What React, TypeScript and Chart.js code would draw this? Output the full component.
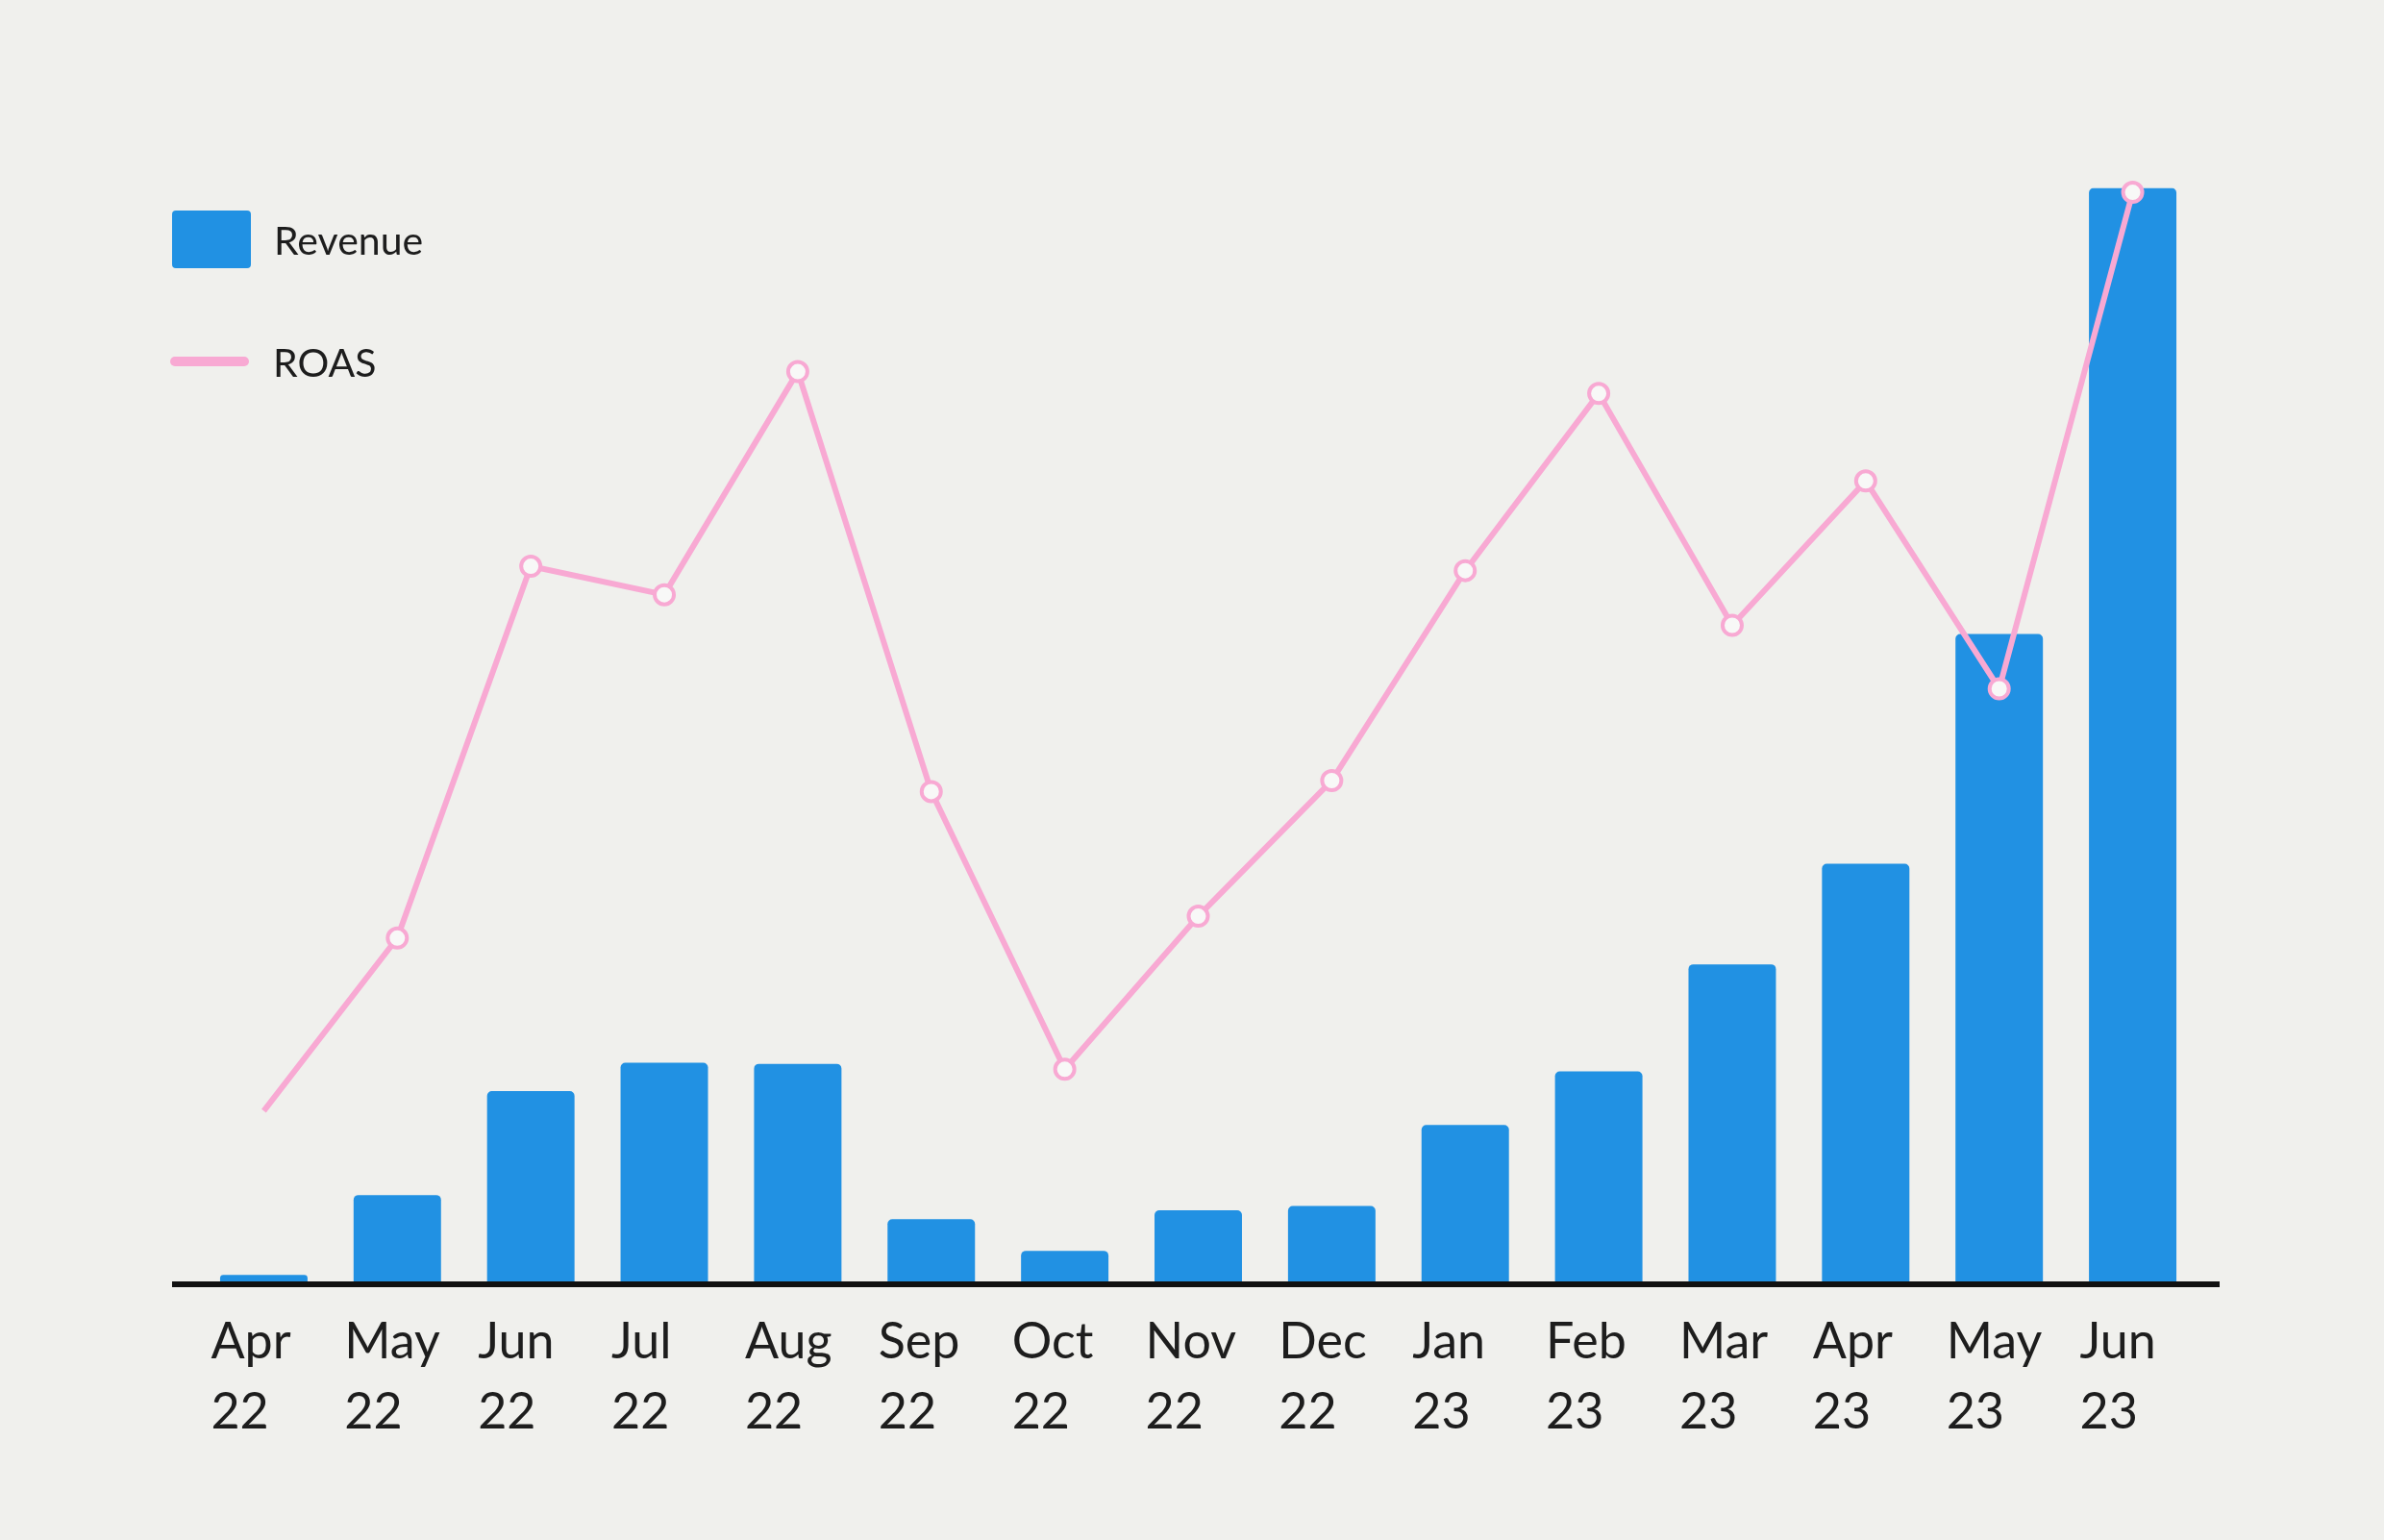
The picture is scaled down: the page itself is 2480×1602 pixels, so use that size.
import { useEffect, useRef } from 'react';
import { Chart, registerables } from 'chart.js';

Chart.register(...registerables);

const months = ['Apr', 'May', 'Jun', 'Jul', 'Aug', 'Sep', 'Oct', 'Nov', 'Dec', 'Jan', 'Feb', 'Mar', 'Apr', 'May', 'Jun'];
const years = ['22', '22', '22', '22', '22', '22', '22', '22', '22', '23', '23', '23', '23', '23', '23'];
const revenue = [0.6, 7.9, 17.4, 20.0, 19.9, 5.7, 2.8, 6.5, 6.9, 14.3, 19.2, 29.0, 38.2, 59.2, 100];
const roas = [0.78, 1.57, 3.27, 3.14, 4.16, 2.24, 0.97, 1.67, 2.29, 3.25, 4.06, 3.0, 3.66, 2.71, 4.98];

const BLUE = '#2191e3';
const PINK = '#f8a9d3';
const BG = '#f0f0ed';
const INK = '#1d1d1d';
const FONT = 'Lato, "Open Sans", sans-serif';

// thick black baseline that runs a little past the first and last bars
const baselinePlugin = {
  id: 'baseline',
  afterDatasetsDraw(chart: any) {
    const { ctx, chartArea } = chart;
    const y = chart.scales.y.getPixelForValue(0);
    ctx.save();
    ctx.fillStyle = '#111';
    ctx.fillRect(chartArea.left - 26, y, chartArea.right - chartArea.left + 47, 6);
    ctx.restore();
  }
};

export default function App() {
  const canvasRef = useRef<HTMLCanvasElement>(null);
  const chartInstance = useRef<Chart | null>(null);

  useEffect(() => {
    document.body.style.margin = '0';
    document.body.style.background = BG;
    let cancelled = false;

    const build = () => {
      if (cancelled || !canvasRef.current) return;
      const ctx = canvasRef.current.getContext('2d');
      if (!ctx) return;

      chartInstance.current = new Chart(ctx, {
        type: 'bar',
        data: {
          labels: months.map((m, i) => [m, years[i]]),
          datasets: [
            {
              type: 'line',
              label: 'ROAS',
              data: roas,
              yAxisID: 'y1',
              order: 0,
              borderColor: PINK,
              borderWidth: 6,
              tension: 0,
              clip: false,
              pointRadius: roas.map((_, i) => (i === 0 ? 0 : 10)),
              pointBackgroundColor: '#f8f8f7',
              pointBorderColor: PINK,
              pointBorderWidth: 4
            },
            {
              type: 'bar',
              label: 'Revenue',
              data: revenue,
              yAxisID: 'y',
              order: 1,
              backgroundColor: BLUE,
              borderRadius: 5,
              categoryPercentage: 1,
              barPercentage: 0.655
            }
          ]
        },
        options: {
          animation: false,
          responsive: true,
          maintainAspectRatio: false,
          layout: {
            padding: { top: 195.5, left: 205, right: 192, bottom: 0 }
          },
          plugins: {
            legend: { display: false },
            tooltip: { enabled: false }
          },
          scales: {
            x: {
              offset: true,
              grid: { display: false, drawTicks: false },
              border: { display: false },
              ticks: {
                autoSkip: false,
                maxRotation: 0,
                minRotation: 0,
                align: 'start',
                labelOffset: -55,
                padding: 27,
                color: INK,
                font: { family: FONT, size: 52, lineHeight: 1.4 }
              },
              afterFit(scale: any) {
                scale.height = 269;
              }
            },
            y: {
              display: false,
              min: 0,
              max: 100
            },
            y1: {
              display: false,
              min: 0,
              max: 5
            }
          }
        },
        plugins: [baselinePlugin]
      });
    };

    document.fonts.load('52px Lato').then(build, build);

    return () => {
      cancelled = true;
      if (chartInstance.current) {
        chartInstance.current.destroy();
        chartInstance.current = null;
      }
    };
  }, []);

  const legendText = {
    fontFamily: FONT,
    fontSize: 41,
    lineHeight: 1,
    color: INK
  };

  return (
    <div style={{ position: 'relative', width: 2480, height: 1602, background: BG }}>
      <canvas ref={canvasRef}></canvas>
      <div style={{ position: 'absolute', left: 179, top: 219, height: 60, display: 'flex', alignItems: 'center' }}>
        <span style={{ width: 82, height: 60, background: BLUE, borderRadius: 4, display: 'block' }}></span>
        <span style={{ ...legendText, marginLeft: 24 }}>Revenue</span>
      </div>
      <div style={{ position: 'absolute', left: 177, top: 346, height: 60, display: 'flex', alignItems: 'center' }}>
        <span style={{ width: 82, height: 10, background: PINK, borderRadius: 5, display: 'block' }}></span>
        <span style={{ ...legendText, marginLeft: 25 }}>ROAS</span>
      </div>
    </div>
  );
}
